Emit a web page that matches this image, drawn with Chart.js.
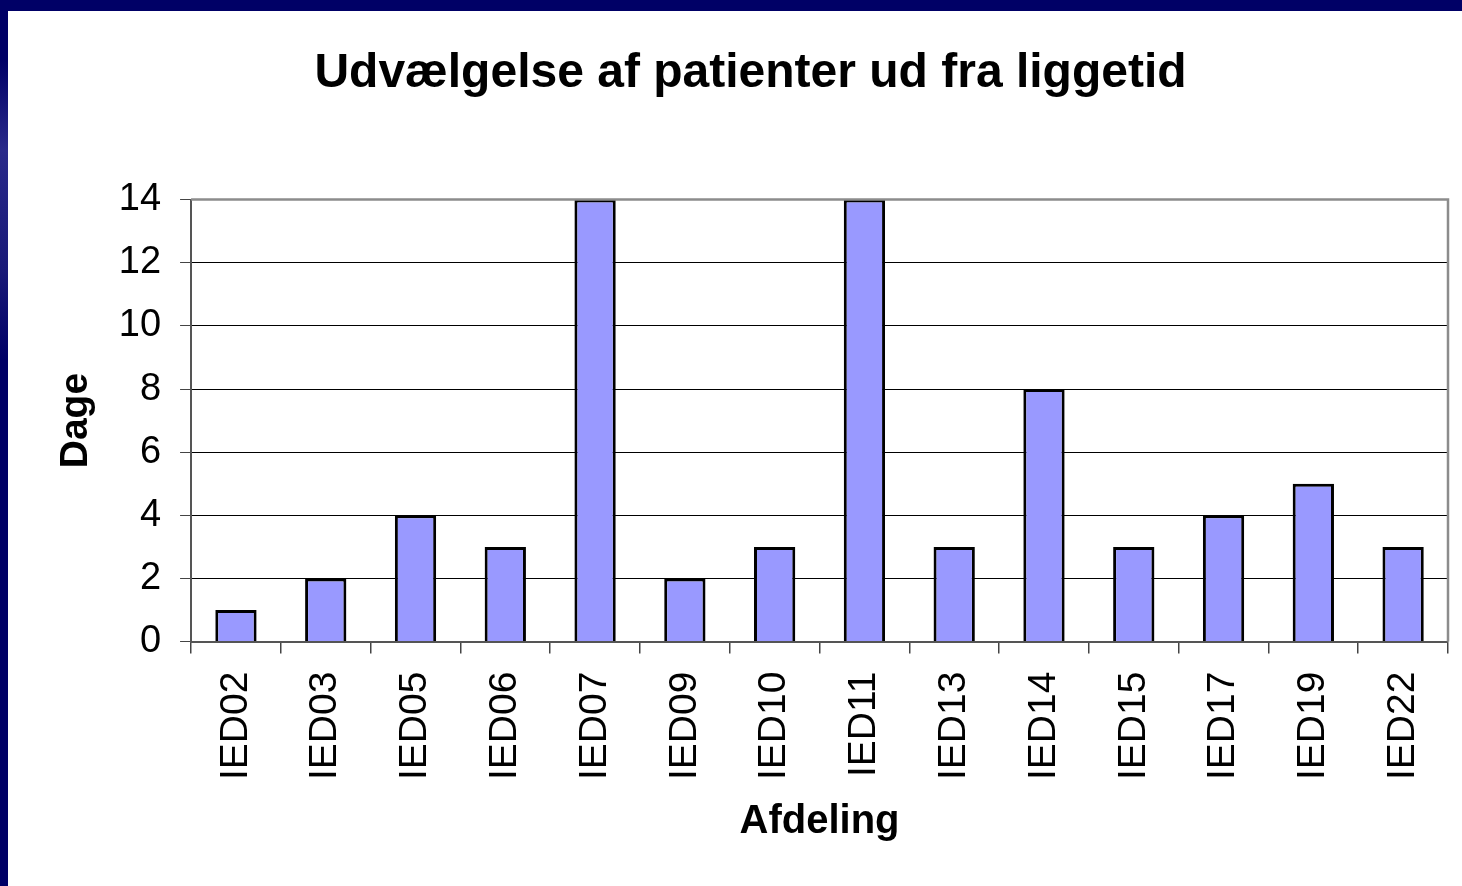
<!DOCTYPE html>
<html><head><meta charset="utf-8">
<script src="https://cdn.jsdelivr.net/npm/chart.js@4.4.0/dist/chart.umd.min.js"></script>
<style>
html,body{margin:0;padding:0;width:1462px;height:886px;overflow:hidden;background:#000066;}
#frame{position:absolute;left:8px;top:11px;width:1474px;height:875px;background:#ffffff;}
#edge{position:absolute;left:0;top:60px;width:8px;height:300px;background:linear-gradient(#000066,#2a2a8a 30%,#1a1a78 70%,#000066);}
canvas{display:block;}
</style></head>
<body>
<div id="edge"></div>
<div id="frame"><canvas id="c" width="1474" height="875"></canvas></div>
<script>
const categories = ["IED02","IED03","IED05","IED06","IED07","IED09","IED10","IED11","IED13","IED14","IED15","IED17","IED19","IED22"];
const values = [1,2,4,3,14,2,3,14,3,8,3,4,5,3];
const yTicks = [0,2,4,6,8,10,12,14];
const titleText = "Udvælgelse af patienter ud fra liggetid";
const yTitle = "Dage";
const xTitle = "Afdeling";

const frameBorder = {
  id: 'frameBorder',
  afterDatasetsDraw(chart) {
    const {ctx, chartArea: a} = chart;
    ctx.save();
    ctx.strokeStyle = '#8c8c8c';
    ctx.lineWidth = 2.5;
    ctx.beginPath();
    ctx.moveTo(a.left, a.top);
    ctx.lineTo(a.right, a.top);
    ctx.lineTo(a.right, a.bottom);
    ctx.stroke();
    ctx.restore();
  }
};

const FONT = 'Liberation Sans, Arial, sans-serif';

new Chart(document.getElementById('c'), {
  type: 'bar',
  data: {
    labels: categories,
    datasets: [{
      data: values,
      backgroundColor: '#9999ff',
      borderColor: '#000000',
      borderWidth: 3,
      categoryPercentage: 1,
      barPercentage: 0.46
    }]
  },
  plugins: [frameBorder],
  options: {
    responsive: false,
    animation: false,
    devicePixelRatio: 1,
    layout: { padding: { left: 45, right: 34, top: 0, bottom: 40 } },
    plugins: {
      legend: { display: false },
      tooltip: { enabled: false },
      title: {
        display: true,
        text: titleText,
        color: '#000000',
        font: { family: FONT, size: 48, weight: 'bold' },
        padding: { top: 34, bottom: 97 }
      }
    },
    scales: {
      x: {
        offset: true,
        grid: { offset: true, drawOnChartArea: false, drawTicks: true, tickLength: 12, color: '#444444', lineWidth: 1.5 },
        border: { display: true, color: '#555555', width: 2 },
        ticks: {
          color: '#000000',
          font: { family: FONT, size: 39 },
          minRotation: 90, maxRotation: 90, padding: 18, autoSkip: false
        },
        title: {
          display: true, text: xTitle, color: '#000000',
          font: { family: FONT, size: 40, weight: 'bold' },
          padding: { top: 0, bottom: 0 }
        }
      },
      y: {
        min: 0, max: 14,
        afterBuildTicks(scale) { scale.ticks = yTicks.map(v => ({ value: v })); },
        grid: { color: '#000000', lineWidth: 1, drawTicks: true, tickLength: 11, tickColor: '#444444' },
        border: { display: true, color: '#555555', width: 2 },
        ticks: {
          color: '#000000',
          font: { family: FONT, size: 38 },
          padding: 19
        },
        title: {
          display: true, text: yTitle, color: '#000000',
          font: { family: FONT, size: 39, weight: 'bold' },
          padding: { top: 0, bottom: 0 }
        }
      }
    }
  }
});
</script>
</body></html>
